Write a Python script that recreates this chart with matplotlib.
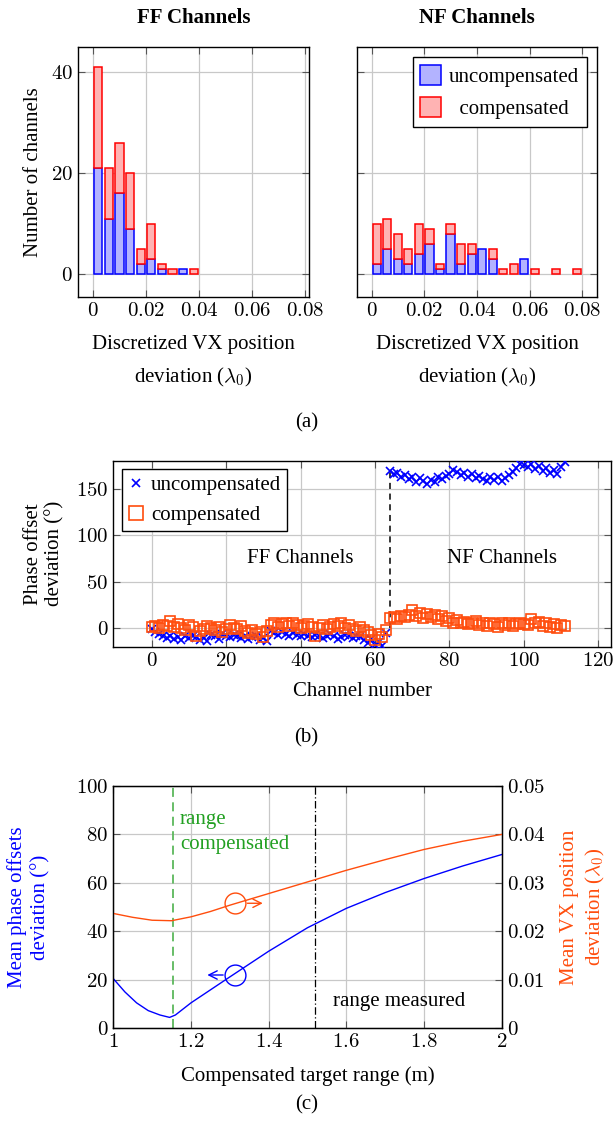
import numpy as np
import matplotlib.pyplot as plt
from matplotlib.ticker import FuncFormatter
from matplotlib.patches import Patch
from matplotlib.lines import Line2D

plt.rcParams['font.family'] = ['Liberation Serif', 'DejaVu Serif']
plt.rcParams['mathtext.fontset'] = 'cm'
FS = 15
plt.rcParams['font.size'] = FS

# ---------- data (a): histograms of VX position deviation ----------
bin_centers_ff = np.arange(0.002, 0.040, 0.004)
ff_uncomp = [21, 11, 16, 9, 2, 3, 1, 0, 1, 0]
ff_comp = [20, 10, 10, 11, 3, 7, 1, 1, 0, 1]

bin_centers_nf = np.arange(0.002, 0.080, 0.004)
nf_uncomp = [2, 5, 3, 2, 4, 6, 1, 8, 2, 4, 5, 3, 0, 0, 3, 0, 0, 0, 0, 0]
nf_comp = [8, 6, 5, 3, 6, 3, 1, 2, 4, 2, 0, 2, 1, 2, 0, 1, 0, 1, 0, 1]

# ---------- data (b): phase offset deviation per channel ----------
ch_ff = np.arange(0, 64)
ch_nf = np.arange(64, 112)
phase_unc_ff = [-1, -4, -6, -9, -11, -8, -12, -10, -13, -9, -11, -8, -10, -13, -11, -14,
                -7, -9, -12, -6, -8, -10, -7, -9, -11, -8, -12, -10, -9, -13, -11, -14,
                -3, -5, -7, -4, -6, -8, -5, -7, -9, -6, -8, -10, -7, -9, -11, -8,
                -6, -9, -12, -10, -7, -9, -11, -8, -10, -13, -16, -12, -18, -15, -19, -5]
phase_comp_ff = [1, 2, 0, 3, 2, 8, 1, 4, 0, -2, 3, 1, -8, -3, -1, 2,
                 0, -2, 1, -4, -1, 3, 0, -1, 2, -3, -5, -2, -6, -4, -10, -3,
                 3, 5, 1, 4, 6, 2, 5, 3, 0, 2, 4, 1, -9, 0, 3, -1,
                 1, 4, 2, 5, 0, 3, -1, -3, 1, -2, -4, -7, -13, -6, -10, -2]
phase_unc_nf = [169, 166, 167, 163, 165, 160, 163, 157, 161, 158, 155, 159, 157, 162, 160, 164,
                166, 170, 168, 165, 167, 163, 166, 161, 164, 160, 158, 162, 159, 163, 158, 161,
                165, 168, 172, 177, 175, 173, 176, 171, 174, 169, 172, 167, 170, 166, 173, 179]
phase_comp_nf = [11, 12, 10, 13, 12, 14, 20, 13, 16, 11, 15, 12, 14, 10, 13, 8,
                 11, 6, 9, 5, 7, 4, 6, 8, 3, 5, 2, 6, 4, 1, 5, 3,
                 6, 2, 4, 5, 4, 3, 10, 6, 7, 2, 5, 1, 4, 0, 3, 2]

# ---------- data (c): deviation vs compensated target range ----------
range_m = [1.00, 1.03, 1.06, 1.09, 1.12, 1.145, 1.16, 1.20, 1.30, 1.40, 1.50, 1.60, 1.70, 1.80, 1.90, 2.00]
mean_phase = [20.5, 15.0, 10.5, 7.3, 5.5, 4.5, 5.5, 10.5, 21.2, 31.8, 41.5, 49.5, 56.0, 61.8, 67.0, 71.7]
range_m2 = [1.00, 1.05, 1.10, 1.15, 1.20, 1.25, 1.30, 1.40, 1.50, 1.60, 1.70, 1.80, 1.90, 2.00]
mean_vx = [0.0237, 0.0229, 0.0223, 0.0222, 0.0230, 0.0241, 0.0254, 0.0278, 0.0302, 0.0326,
           0.0348, 0.0369, 0.0386, 0.0400]
range_compensated = 1.153
range_measured = 1.52

blue_fill, red_fill = '#b3b3ff', '#ffb3b3'
orange = '#ff4d0d'
grid_c = '#c8c8c8'

math_fmt = FuncFormatter(lambda v, p: '$%g$' % round(v, 6))


def style(ax, right=True, top=True):
    ax.grid(True, color=grid_c, lw=0.9)
    ax.set_axisbelow(True)
    ax.tick_params(direction='in', top=top, right=right, length=5,
                   color='#555555', labelsize=FS)
    for s in ax.spines.values():
        s.set_linewidth(1.0)


def stacked_hist(ax, centers, unc, comp):
    unc = np.array(unc)
    comp = np.array(comp)
    m = unc > 0
    ax.bar(centers[m], unc[m], width=0.0031, color=blue_fill, edgecolor='blue', lw=1.1)
    m = comp > 0
    ax.bar(centers[m], comp[m], bottom=unc[m], width=0.0031, color=red_fill,
           edgecolor='red', lw=1.1)


fig = plt.figure(figsize=(6.13, 11.34), dpi=100)

# ---- (a) ----
ax1 = fig.add_axes([0.1272, 0.7381, 0.377, 0.2205])
ax2 = fig.add_axes([0.5824, 0.7381, 0.3915, 0.2205])
stacked_hist(ax1, bin_centers_ff, ff_uncomp, ff_comp)
stacked_hist(ax2, bin_centers_nf, nf_uncomp, nf_comp)
for ax, lim in ((ax1, (-0.0057, 0.0816)), (ax2, (-0.0055, 0.0856))):
    ax.set_xlim(*lim)
    ax.set_ylim(-4.5, 45)
    ax.set_xticks([0, 0.02, 0.04, 0.06, 0.08])
    ax.set_yticks([0, 20, 40])
    ax.xaxis.set_major_formatter(math_fmt)
    ax.yaxis.set_major_formatter(math_fmt)
    style(ax)
    ax.set_xlabel('Discretized VX position\ndeviation ($\\lambda_0$)', linespacing=1.75,
                  labelpad=10)
ax2.set_yticklabels([])
ax1.set_ylabel('Number of channels', labelpad=6)
ax1.set_title('FF Channels', fontweight='bold', fontsize=FS, pad=17)
ax2.set_title('NF Channels', fontweight='bold', fontsize=FS, pad=17)
handles = [Patch(facecolor=blue_fill, edgecolor='blue', lw=1.1),
           Patch(facecolor=red_fill, edgecolor='red', lw=1.1)]
ax2.legend(handles, ['uncompensated', '  compensated'], loc='upper right',
           fancybox=False, edgecolor='black', framealpha=1, fontsize=FS,
           handlelength=1.0, handleheight=1.1, borderaxespad=0.5,
           handletextpad=0.4, borderpad=0.35)
fig.text(0.5, 1 - 423 / 1134, '(a)', ha='center', va='center', fontsize=FS)

# ---- (b) ----
axb = fig.add_axes([0.1848, 0.4297, 0.812, 0.164])
axb.plot([64, 64], [0, 172], color='black', ls=(0, (4, 3)), lw=1.1, zorder=2)
axb.plot(np.concatenate([ch_ff, ch_nf]), phase_unc_ff + phase_unc_nf, ls='none',
         marker='x', color='blue', ms=5.5, mew=1.2, zorder=3)
axb.plot(np.concatenate([ch_ff, ch_nf]), phase_comp_ff + phase_comp_nf, ls='none',
         marker='s', mfc='none', mec=orange, ms=7.5, mew=1.2, zorder=4)
axb.set_xlim(-10.3, 123.4)
axb.set_ylim(-20, 180)
axb.set_xticks(range(0, 121, 20))
axb.set_yticks([0, 50, 100, 150])
axb.xaxis.set_major_formatter(math_fmt)
axb.yaxis.set_major_formatter(math_fmt)
style(axb)
axb.text(40, 75, 'FF Channels', ha='center', va='center', fontsize=FS)
axb.text(94, 75, 'NF Channels', ha='center', va='center', fontsize=FS)
axb.set_xlabel('Channel number', labelpad=8)
axb.set_ylabel('Phase offset\ndeviation (°)', labelpad=8)
lh = [Line2D([], [], ls='none', marker='x', color='blue', ms=5.5, mew=1.2),
      Line2D([], [], ls='none', marker='s', mfc='none', mec=orange, ms=10, mew=1.2)]
axb.legend(lh, ['uncompensated', 'compensated'], loc='upper left',
           fancybox=False, edgecolor='black', framealpha=1, fontsize=FS,
           handlelength=0.8, handletextpad=0.3, borderaxespad=0.4, borderpad=0.3)
fig.text(0.5, 1 - 738 / 1134, '(b)', ha='center', va='center', fontsize=FS)

# ---- (c) ----
axc = fig.add_axes([0.1848, 0.0932, 0.6336, 0.2137])
axr = axc.twinx()
axc.plot(range_m, mean_phase, color='blue', lw=1.0)
axr.plot(range_m2, mean_vx, color=orange, lw=1.0)
axc.axvline(range_compensated, color='#5cb85c', ls=(0, (5, 3)), lw=1.3)
axc.axvline(range_measured, color='black', ls=(0, (6, 2, 1, 2)), lw=0.9)
axc.set_xlim(1, 2)
axc.set_ylim(0, 100)
axr.set_ylim(0, 0.05)
axc.set_xticks([1, 1.2, 1.4, 1.6, 1.8, 2])
axc.set_yticks(range(0, 101, 20))
axr.set_yticks([0, 0.01, 0.02, 0.03, 0.04, 0.05])
axc.xaxis.set_major_formatter(math_fmt)
axc.yaxis.set_major_formatter(math_fmt)
axr.yaxis.set_major_formatter(math_fmt)
style(axc, right=False)
axr.tick_params(direction='in', length=5, color='#555555', labelsize=FS)
axc.text(1.172, 86, 'range', color='#22a022', ha='left', va='center')
axc.text(1.172, 76, 'compensated', color='#22a022', ha='left', va='center')
axc.text(1.565, 11, 'range measured', color='black', ha='left', va='center')
# series markers with arrows pointing at their axes
axc.plot(1.314, 22, marker='o', ms=15, mfc='none', mec='blue', mew=1.0)
axc.annotate('', xy=(1.235, 22), xytext=(1.29, 22),
             arrowprops=dict(arrowstyle='->', color='blue', lw=1.0))
axr.plot(1.314, 0.0258, marker='o', ms=15, mfc='none', mec=orange, mew=1.0)
axr.annotate('', xy=(1.392, 0.0258), xytext=(1.338, 0.0258),
             arrowprops=dict(arrowstyle='->', color=orange, lw=1.0))
axc.set_xlabel('Compensated target range (m)', labelpad=10)
axc.set_ylabel('Mean phase offsets\ndeviation (°)', color='blue', labelpad=18,
               linespacing=1.3)
axr.set_ylabel('Mean VX position\ndeviation ($\\lambda_0$)', color=orange, labelpad=11,
               linespacing=1.25)
fig.text(0.5, 1 - 1105 / 1134, '(c)', ha='center', va='center', fontsize=FS)

fig.savefig('out.png', dpi=100)
